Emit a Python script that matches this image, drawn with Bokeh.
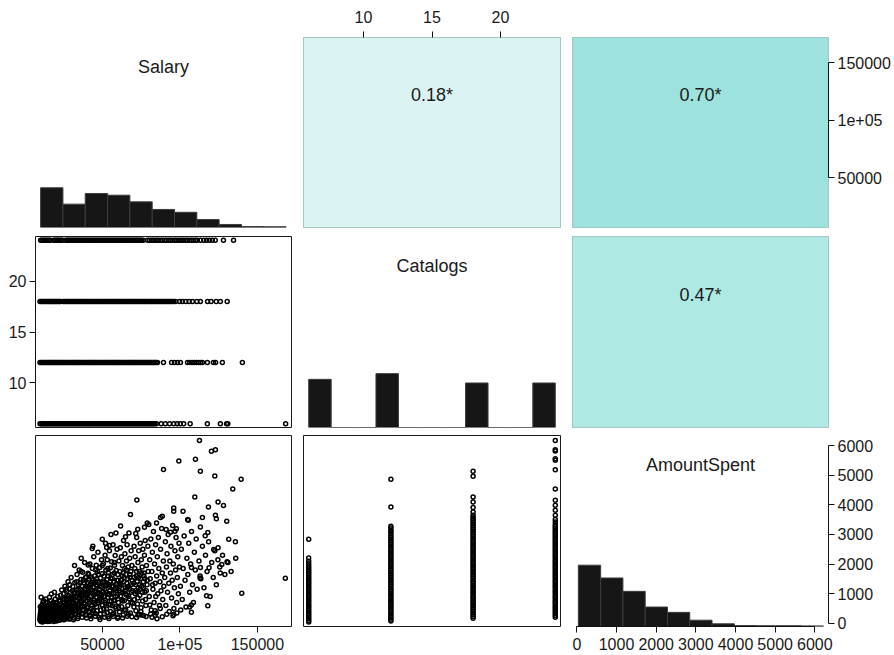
from bokeh.plotting import figure
from bokeh.layouts import gridplot
from bokeh.models import Range1d, LinearAxis, FixedTicker
from bokeh.core.properties import value
from bokeh.embed import file_html
from bokeh.resources import INLINE

# ---------------- data ----------------
variables = ["Salary", "Catalogs", "AmountSpent"]
# correlations: (Salary,Catalogs), (Salary,AmountSpent), (Catalogs,AmountSpent)
correlations = [0.18, 0.70, 0.47]
corr_colors = ["#dbf4f3", "#9de2dc", "#aee9e4"]

salary_limits = (6800, 172000)
catalogs_limits = (5.62, 24.38)
amount_limits = (-110, 6345)

salary_ticks = [50000, 100000, 150000]
salary_tick_labels = ["50000", "1e+05", "150000"]
catalogs_ticks = [10, 15, 20]
amount_ticks = [0, 1000, 2000, 3000, 4000, 5000, 6000]

# histograms (bin edges and counts)
salary_breaks = [10100, 24500, 38900, 53300, 67700, 82100, 96500, 110900, 125300, 139700, 154100, 168500]
salary_counts = [209, 123, 179, 170, 135, 95, 80, 42, 16, 5, 4]
catalogs_breaks = [6, 7.64, 9.27, 10.91, 12.55, 14.18, 15.82, 17.45, 19.09, 20.73, 22.36, 24]
catalogs_counts = [252, 0, 0, 282, 0, 0, 0, 233, 0, 0, 233]
amount_breaks = [38, 600, 1161, 1723, 2285, 2846, 3408, 3970, 4532, 5093, 5655, 6217]
amount_counts = [321, 254, 184, 102, 74, 33, 14, 5, 4, 4, 3]
hist_scale_max = 1000

# Salary (thousands) by catalogs level
sal_cat24 = [10.1, 10.9, 11.6, 12.5, 13.3, 14.0, 14.9, 15.7, 16.5,
             18.6, 19.3, 20.2, 20.9, 21.8, 22.5, 23.4, 24.2,
             26.2, 27.0, 27.9, 28.6, 29.5, 30.3, 31.1, 32.0, 32.8, 33.6, 34.5, 35.2, 36.1, 37.0,
             37.7, 38.6, 39.5, 40.2, 41.1, 42.0, 42.7, 43.6, 44.5, 45.2, 46.1, 47.0, 47.7, 48.6,
             49.5, 50.2, 51.1, 52.0, 52.7, 53.6, 54.5, 55.2, 56.1, 57.0, 57.7, 58.6, 59.5, 60.2,
             61.1, 62.0, 62.7, 63.6, 64.5, 65.2, 66.1, 67.0, 67.7, 68.6, 69.5, 70.2, 71.1, 72.0,
             72.7, 73.6, 74.5, 75.2, 76.3,
             79.1, 80.2, 81.6, 82.7, 83.9, 85.2, 86.3, 87.7, 88.8, 90.1, 91.2, 92.6, 93.7, 95.0,
             96.4, 97.5, 98.8, 100.1, 101.4, 102.5, 103.9, 105.0, 106.4, 107.6, 108.9, 110.2, 111.2,
             113.3, 115.4, 117.2, 119.0, 120.9, 122.8, 128.1, 134.6]
sal_cat18 = [9.7, 10.5, 11.1, 11.9, 12.6, 13.2, 14.0, 14.7, 15.3, 16.1, 16.8, 17.4, 18.2, 18.9,
             19.5, 20.3, 21.0, 21.6, 22.4, 23.0,
             24.7, 25.5, 26.2, 27.1, 27.8, 28.7, 29.4, 30.3, 31.0, 31.9, 32.6, 33.5, 34.2, 35.1,
             35.8, 36.7, 37.4, 38.3, 39.0, 39.9, 40.6, 41.5, 42.2, 43.1, 43.8, 44.7, 45.4, 46.3,
             47.0, 47.9, 48.6, 49.5, 50.2, 51.1, 51.8, 52.7, 53.4, 54.3, 55.0, 55.9, 56.6, 57.5,
             58.2, 59.1, 59.8, 60.7, 61.4, 62.3, 63.0, 63.9, 64.6, 65.5, 66.2, 67.1, 67.8, 68.7,
             69.4, 70.3, 71.0, 71.9, 72.6, 73.5, 74.2, 75.1, 75.8, 76.7, 77.4, 78.3, 79.0, 79.9,
             80.6, 81.5, 82.2, 83.1, 83.8, 84.7, 85.4, 86.3, 87.0, 87.9, 88.6, 89.5, 90.2, 91.1,
             91.8, 92.7, 93.4, 94.3, 95.1, 96.0,
             97.2, 99.8, 101.6, 103.8, 105.9, 108.1, 110.9, 113.2, 117.8, 120.1, 123.4, 126.1, 130.5]
sal_cat12 = [9.7, 10.4, 11.2, 11.9, 12.5, 13.3, 14.0, 14.6, 15.4, 16.1, 16.7, 17.5, 18.2, 18.8,
             19.6, 20.3, 20.9, 21.7, 22.4, 23.0, 23.8, 24.5, 25.1, 25.9, 26.6, 27.2, 28.0, 28.7,
             29.3, 30.1, 30.8, 31.4, 32.2, 32.9, 33.5, 34.3, 35.0, 35.6, 36.4, 37.1, 37.7, 38.5,
             39.2, 39.8, 40.6, 41.3, 41.9, 42.7, 43.4, 44.0, 44.8, 45.5, 46.1, 46.9, 47.6, 48.2,
             49.0, 49.7, 50.3, 51.1, 51.8, 52.4, 53.2, 53.9, 54.5, 55.3, 56.0, 56.6, 57.4, 58.1,
             58.7, 59.5, 60.2, 60.8, 61.6, 62.3, 62.9, 63.7, 64.4, 65.0, 65.8, 66.5, 67.1, 67.9,
             68.6, 69.2, 70.0, 70.7, 71.3, 72.1, 72.8, 73.4, 74.2, 74.9, 75.5, 76.3, 77.0, 77.6,
             78.4, 79.1, 79.7, 80.5, 81.2, 81.8, 82.6, 83.3, 83.9, 84.7, 85.5,
             89.4, 94.6, 96.5, 98.4, 100.3, 104.9, 106.3, 107.8, 109.1, 110.6, 112.0, 113.3, 114.5,
             117.7, 121.6, 123.0, 127.4, 140.3]
sal_cat6 = [9.7, 10.3, 11.0, 11.8, 12.4, 13.1, 13.9, 14.6, 15.2, 16.0, 16.7, 17.3, 18.1, 18.9,
            19.5, 20.2, 21.0, 21.7, 22.3, 23.1, 23.8, 24.4, 25.2, 26.0, 26.6, 27.3, 28.1, 28.8,
            29.4, 30.2, 31.0, 31.6, 32.3, 33.1, 33.8, 34.4, 35.2, 36.0, 36.6, 37.3, 38.1, 38.8,
            39.4, 40.2, 41.0, 41.6, 42.3, 43.1, 43.8, 44.4, 45.2, 46.0, 46.6, 47.3, 48.1, 48.8,
            49.4, 50.2, 51.0, 51.6, 52.3, 53.1, 53.8, 54.4, 55.2, 56.0, 56.6, 57.3, 58.1, 58.8,
            59.4, 60.2, 61.0, 61.6, 62.3, 63.1, 63.8, 64.4, 65.2, 66.0, 66.6, 67.3, 68.1, 68.8,
            69.4, 70.2, 71.0, 71.6, 72.3, 73.1, 73.8, 74.4, 75.2, 76.0, 76.6, 77.3, 78.1, 78.8,
            79.4, 80.2, 81.0, 81.6, 82.3, 83.1, 83.8, 84.8,
            87.9, 90.6, 93.3, 96.0, 98.2, 100.2, 102.4, 106.6, 117.7, 126.1, 130.1, 130.9, 168.2]

# AmountSpent by catalogs level
amt_cat6 = [38, 92, 151, 206, 268, 322, 379, 441, 497, 556, 612, 668, 731, 787, 846, 904, 962,
            1018, 1079, 1137, 1196, 1258, 1317, 1376, 1438, 1497, 1556, 1618, 1677, 1738, 1796,
            1868, 1931, 2012, 2098, 2207, 2841]
amt_cat12 = [77, 135, 196, 252, 311, 372, 428, 487, 549, 606, 664, 725, 781, 840, 902, 958, 1017,
             1079, 1135, 1194, 1256, 1312, 1371, 1433, 1489, 1548, 1610, 1666, 1725, 1787, 1843,
             1902, 1964, 2020, 2079, 2141, 2197, 2256, 2318, 2374, 2433, 2495, 2551, 2610, 2672,
             2728, 2787, 2849, 2905, 2964, 3030, 3088, 3145, 3222, 3280, 3930, 4864]
amt_cat18 = [168, 226, 287, 343, 402, 464, 520, 579, 641, 697, 756, 818, 874, 933, 995, 1051,
             1110, 1172, 1228, 1287, 1349, 1405, 1464, 1526, 1582, 1641, 1703, 1759, 1818, 1880,
             1936, 1995, 2057, 2113, 2172, 2234, 2290, 2349, 2411, 2467, 2526, 2588, 2644, 2703,
             2765, 2821, 2880, 2942, 2998, 3057, 3119, 3175, 3234, 3296, 3352, 3411, 3473, 3529,
             3588, 3650, 3762, 3910, 4099, 4268, 4965, 5134]
amt_cat24 = [201, 259, 320, 376, 435, 497, 553, 612, 674, 730, 789, 851, 907, 966, 1028, 1084,
             1143, 1205, 1261, 1320, 1382, 1438, 1497, 1559, 1615, 1674, 1736, 1792, 1851, 1913,
             1969, 2028, 2090, 2146, 2205, 2267, 2323, 2382, 2444, 2500, 2559, 2621, 2677, 2736,
             2798, 2854, 2913, 2975, 3031, 3090, 3152, 3208, 3267, 3329, 3425, 3506, 3650, 3819,
             3988, 4156, 4537, 5191, 5505, 5562, 5818, 5866, 6179]

# (Salary in thousands, AmountSpent)
salary_amount = [
    (9.6,120),(9.8,260),(10.0,75),(10.1,410),(10.3,190),(10.5,330),(10.6,55),(10.8,520),(11.0,150),
    (11.1,280),(11.3,640),(11.4,95),(11.6,380),(11.8,210),(11.9,470),(12.1,60),(12.2,300),(12.4,170),
    (12.6,560),(12.7,240),(12.9,420),(13.0,110),(13.2,350),(13.4,680),(13.5,200),(13.7,480),(13.8,80),
    (14.0,290),(14.2,600),(14.3,150),(14.5,390),(14.6,250),(14.8,530),(14.9,120),(10.4,880),(12.0,760),
    (13.3,820),(11.7,720),(10.9,600),(12.8,90),(14.4,700),(9.9,560),(11.2,40),(13.9,440),(12.5,350),
    (15.1,310),(15.2,90),(15.4,470),(15.6,180),(15.7,620),(15.9,260),(16.1,70),(16.2,400),(16.4,540),
    (16.6,130),(16.7,330),(16.9,760),(17.1,210),(17.2,450),(17.4,95),(17.6,590),(17.7,280),(17.9,380),
    (18.1,150),(18.2,700),(18.4,480),(18.6,230),(18.7,60),(18.9,350),(19.1,620),(19.2,170),(19.4,440),
    (19.6,820),(19.7,290),(19.9,110),(20.1,530),(20.3,380),(20.4,210),(20.6,680),(20.8,140),(20.9,460),
    (21.1,900),(21.3,320),(21.4,580),(21.6,100),(21.8,410),(21.9,750),(15.8,880),(17.0,990),(19.0,1050),
    (22.1,260),(22.3,520),(22.5,130),(22.6,740),(22.8,390),(23.0,950),(23.2,200),(23.4,610),(23.5,330),
    (23.7,1120),(23.9,470),(24.1,160),(24.3,800),(24.5,560),(24.6,290),(24.8,1000),(25.0,420),(25.2,120),
    (25.4,690),(25.6,360),(25.8,1250),(26.0,540),(26.2,230),(26.4,870),(26.6,450),(26.8,150),(27.0,1080),
    (27.2,640),(27.4,310),(27.6,780),(27.8,1400),(28.0,480),(28.2,210),(28.4,930),(28.6,600),(28.8,350),
    (29.0,1160),(29.2,720),(29.5,420),(29.8,1550),
    (10.2,220),(10.7,140),(11.5,330),(12.3,90),(12.9,260),(13.6,150),(14.1,380),(14.7,60),(15.3,220),
    (15.9,420),(16.5,90),(17.3,300),(17.8,520),(18.5,140),(19.3,260),(19.8,480),(20.5,80),(21.2,230),
    (22.0,390),(22.7,110),(23.3,450),(24.0,260),(24.7,130),(25.5,520),(26.1,330),(26.9,180),(27.5,560),
    (28.3,280),(29.1,150),(29.7,460),(10.5,470),(11.9,560),(13.1,520),(14.8,300),(16.3,660),(18.0,600),
    (20.0,700),(22.2,650),(24.2,720),(26.7,780),
    (9.7,180),(10.0,340),(10.4,100),(11.0,450),(11.4,210),(11.9,130),(12.3,400),(12.8,320),(13.3,230),
    (13.8,360),(14.3,480),(14.9,210),(15.5,350),(16.0,160),(16.6,250),(17.1,530),(17.6,140),(18.3,380),
    (18.8,250),(19.5,540),(20.2,300),(20.9,170),(21.5,420),
    (30.1,260),(30.3,860),(30.5,540),(30.8,1240),(31.0,390),(31.2,700),(31.5,1020),(31.7,180),(31.9,600),
    (32.2,1380),(32.4,470),(32.6,880),(32.9,300),(33.1,1120),(33.3,760),(33.6,1650),(33.8,520),(34.0,990),
    (34.3,230),(34.5,1300),(34.7,640),(35.0,1800),(35.2,850),(35.4,410),(35.7,1150),(35.9,700),(36.1,1480),
    (36.4,330),(36.6,940),(36.8,1250),(37.1,580),(37.3,1720),(37.5,1060),(37.8,450),(38.0,820),(38.2,1370),
    (38.5,2050),(38.7,640),(38.9,1180),(39.2,270),(39.4,960),(39.6,1560),(39.8,740),(32.0,1950),(36.3,2200),
    (30.4,420),(31.1,580),(31.8,300),(32.5,760),(33.2,430),(33.9,620),(34.6,370),(35.3,950),(36.0,540),
    (36.7,1100),(37.4,310),(38.1,680),(38.8,880),(39.5,430),(33.4,1400),(39.0,1550),(36.2,1750),
    (25.3,820),(26.5,1150),(27.3,950),(28.1,720),(28.9,1300),(29.6,880),(30.6,1100),(31.4,840),(32.1,1050),
    (32.8,640),(33.5,920),(34.2,1150),(34.9,500),(35.6,1350),(36.3,780),(37.0,1000),(37.7,1450),(38.4,560),
    (39.1,1250),(39.9,1000),
    (40.1,520),(40.3,1230),(40.5,860),(40.8,1690),(41.0,380),(41.2,1040),(41.4,1450),(41.7,700),(41.9,2000),
    (42.1,1180),(42.3,240),(42.6,900),(42.8,1560),(43.0,620),(43.3,1330),(43.5,1850),(43.7,1010),(43.9,430),
    (44.2,1220),(44.4,2250),(44.6,780),(44.9,1600),(45.1,1100),(45.3,330),(45.5,1420),(45.8,880),(46.0,1960),
    (46.2,560),(46.4,1260),(46.7,1740),(46.9,1000),(47.1,2400),(47.3,690),(47.6,1380),(47.8,190),(48.0,1120),
    (48.2,1880),(48.5,820),(48.7,1530),(48.9,450),(49.2,1240),(49.4,2150),(49.6,960),(49.8,1670),(43.8,2600),
    (40.2,1050),(40.9,560),(41.6,280),(42.4,780),(43.1,1120),(43.8,350),(44.5,950),(45.2,640),(45.9,1300),
    (46.6,420),(47.3,1050),(48.0,760),(48.7,300),(49.4,880),(41.1,1650),(45.6,1800),(49.9,1950),
    (40.6,1380),(41.3,820),(42.0,1280),(42.7,500),(43.4,1500),(44.1,700),(44.8,1350),(45.5,1050),(46.2,1500),
    (46.9,760),(47.6,1650),(48.3,1000),(49.0,1350),(49.7,620),
    (50.1,610),(50.3,1380),(50.6,2010),(50.8,900),(51.0,1600),(51.2,310),(51.5,1150),(51.7,2300),(51.9,760),
    (52.2,1790),(52.4,1270),(52.6,480),(52.9,1480),(53.1,2150),(53.3,980),(53.6,220),(53.8,1700),(54.0,1320),
    (54.3,640),(54.5,2450),(54.7,1090),(55.0,1870),(55.2,400),(55.4,1530),(55.7,860),(55.9,2080),(56.1,1240),
    (56.4,590),(56.6,1650),(56.8,2650),(57.1,1020),(57.3,340),(57.5,1410),(57.8,1960),(58.0,760),(58.2,2290),
    (58.5,1180),(58.7,500),(58.9,1780),(59.2,1330),(59.4,2500),(59.6,920),(59.8,170),(52.0,2700),(55.5,3000),
    (50.2,1200),(50.9,480),(51.6,700),(52.3,1050),(53.0,360),(53.7,870),(54.4,1250),(55.1,620),(55.8,1000),
    (56.5,300),(57.2,780),(57.9,1150),(58.6,560),(59.3,1450),(53.4,1850),(57.6,2050),
    (50.5,1050),(51.3,1400),(52.1,650),(52.8,1300),(53.5,1600),(54.2,1000),(54.9,1400),(55.6,750),(56.3,1500),
    (57.0,1250),(57.7,1700),(58.4,900),(59.1,1100),(59.9,1650),
    (60.1,1450),(60.3,700),(60.6,2100),(60.8,1100),(61.0,380),(61.3,1750),(61.5,2550),(61.7,900),(62.0,1300),
    (62.2,2250),(62.4,560),(62.7,1600),(62.9,1950),(63.1,1050),(63.4,280),(63.6,2800),(63.8,1400),(64.1,760),
    (64.3,1850),(64.5,2350),(64.8,1200),(65.0,450),(65.2,1650),(65.5,2100),(65.7,950),(65.9,2650),(66.2,1500),
    (66.4,600),(66.6,1900),(66.9,1250),(67.1,3050),(67.3,830),(67.6,2200),(67.8,1550),(68.0,350),(68.3,1750),
    (68.5,2450),(68.7,1050),(69.0,1950),(69.4,680),
    (60.5,520),(61.4,1250),(62.5,800),(63.3,1700),(64.0,450),(64.9,1000),(65.8,1350),(66.7,300),(67.5,1150),
    (68.4,700),(69.2,1450),
    (60.7,1300),(61.6,1050),(62.3,1450),(63.0,750),(63.9,1550),(64.6,1100),(65.4,1800),(66.1,1200),(66.9,900),
    (67.7,1650),(68.6,1300),(69.5,1100),
    (70.1,1350),(70.4,2600),(70.6,800),(70.9,1850),(71.1,2250),(71.4,1100),(71.6,420),(71.9,1600),(72.1,2900),
    (72.4,1400),(72.6,650),(72.9,2050),(73.1,1200),(73.4,2450),(73.6,300),(73.9,1750),(74.1,950),(74.4,2700),
    (74.6,1500),(74.9,520),(75.1,2150),(75.4,1250),(75.6,1900),(75.9,750),(76.1,2500),(76.4,1400),(76.6,260),
    (76.9,1700),(77.1,2300),(77.4,1050),(77.6,2800),(78.0,600),(78.4,1950),(78.8,1300),(79.3,2600),
    (70.3,550),(71.2,1000),(72.0,1750),(72.8,850),(73.8,1300),(74.8,400),(75.7,1050),(76.7,1600),(77.8,800),
    (79.0,1450),
    (70.5,1550),(71.5,1300),(72.3,1050),(73.3,1550),(74.3,1150),(75.3,1700),(76.3,1200),(77.3,1500),(78.3,1100),
    (79.5,1750),
    (25.9,200),(28.5,140),(31.3,120),(34.1,160),(36.9,200),(39.7,180),(42.5,150),(45.4,240),(48.4,130),
    (51.4,200),(54.2,160),(57.0,230),(60.0,210),(63.0,180),(66.0,240),(69.0,220),(72.0,190),(75.0,280),
    (78.2,230),(81.1,310),(84.0,260),(91.5,300),(98.0,350),
    (80.2,900),(80.5,2150),(80.8,1500),(81.2,2850),(81.5,450),(81.9,1750),(82.2,2400),(82.6,1150),(82.9,3100),
    (83.3,700),(83.6,2000),(84.0,1350),(84.3,2650),(84.7,350),(85.0,1600),(85.4,2250),(85.7,1000),(86.1,2900),
    (86.4,1850),(86.8,600),(87.1,1400),(87.5,2500),(87.8,1100),(88.2,3200),(88.6,1700),(88.9,800),(89.3,2100),
    (89.6,1250),(85.2,150),(82.0,200),(80.5,620),(82.4,1300),(84.4,900),(87.3,500),
    (90.2,1550),(90.6,2750),(90.9,600),(91.3,1900),(91.7,2350),(92.0,1050),(92.4,3000),(92.8,1350),(93.1,400),
    (93.5,2100),(93.9,1700),(94.2,2600),(94.6,850),(95.0,1450),(95.3,3300),(95.7,2000),(96.1,500),(96.4,1200),
    (96.8,2450),(97.2,1800),(97.5,2900),(97.9,700),(98.3,1550),(98.6,2250),(99.0,1000),(99.4,2700),(99.7,1900),
    (95.5,250),
    (100.3,1250),(100.9,2500),(101.5,800),(102.1,1850),(102.7,2950),(103.3,1450),(103.9,550),(104.5,2200),
    (105.1,1650),(105.7,2700),(106.3,1050),(106.9,2000),(107.5,3100),(108.1,1300),(108.7,700),(109.3,2400),
    (109.9,1800),(110.5,2850),(111.1,1150),(112.3,2100),(113.5,1500),(114.5,2600),
    (115.5,1200),(116.5,2300),(117.5,1750),(118.5,2750),(119.5,900),(120.5,2050),(121.5,1550),(122.5,2450),
    (123.5,1300),(124.5,2150),(126.0,1700),(127.5,2300),(129.0,1650),(131.0,2050),(133.0,1750),(136.0,2200),
    (112.6,6180),(120.3,5810),(122.9,5867),(99.3,5482),(110.0,5539),(89.4,5192),(113.2,5135),(122.5,4977),
    (139.5,4865),(134.1,4538),(109.6,4268),(72.2,4167),(118.4,3931),(124.6,4100),(128.1,3978),(96.0,3898),
    (96.0,3786),(102.0,3786),(68.1,3674),(88.6,3617),(87.5,3573),(105.0,3506),(105.4,3482),(114.5,3573),
    (122.9,3652),(123.5,3528),(130.2,3449),(84.9,3392),(78.9,3392),(79.9,3337),(61.7,3290),(113.2,3256),
    (97.7,3190),(96.8,3111),(91.1,3168),(93.9,3077),(49.9,2842),(58.7,3054),(71.5,3032),(72.8,3179),
    (77.1,3246),(64.9,2920),(118.0,3067),(116.3,2953),(131.5,2842),(135.8,2751),(124.6,2548),(121.8,2494),
    (130.4,2077),(127.0,1988),(125.7,1897),(118.8,1874),(113.2,1888),(107.4,1888),(139.9,1010),(168.0,1517),
    (117.2,930),(118.0,593),(107.4,616),(106.2,549),(113.0,1594),(113.0,1527),(43.4,2528),(52.7,2562),
    (54.6,2630),(40.8,1970),(96.0,300),(88.6,220),(72.9,280),(107.4,370),(100.5,450),(84.0,420),
]

# ---------------- styling / layout ----------------
FONT = "Liberation Sans"
frame_w = [256, 257, 256]
frame_h = [190, 191, 191]
border_l = [35, 6, 6]
border_r = [6, 6, 66]
border_t = [37, 5, 4]
border_b = [4, 4, 29]


def make_fig(r, c, xr, yr):
    p = figure(width=border_l[c] + frame_w[c] + border_r[c],
               height=border_t[r] + frame_h[r] + border_b[r],
               x_range=Range1d(*xr), y_range=Range1d(*yr),
               x_axis_location=None, y_axis_location=None,
               toolbar_location=None, output_backend="svg",
               min_border_left=border_l[c], min_border_right=border_r[c],
               min_border_top=border_t[r], min_border_bottom=border_b[r])
    p.grid.visible = False
    p.outline_line_color = None
    p.background_fill_color = "white"
    p.border_fill_color = "white"
    return p


def add_axis(p, side, ticks, labels=None, range_name="default", standoff=3, line=True):
    kw = {}
    if side in ("above", "below"):
        kw["x_range_name"] = range_name
    else:
        kw["y_range_name"] = range_name
    ax = LinearAxis(ticker=FixedTicker(ticks=ticks, minor_ticks=[]), **kw)
    ax.major_tick_out = 6
    ax.major_tick_in = 0
    ax.minor_tick_out = 0
    ax.minor_tick_in = 0
    ax.major_tick_line_color = "#111111"
    ax.axis_line_color = "#111111" if line else None
    ax.bounds = (ticks[0], ticks[-1])
    ax.major_label_text_font = FONT
    ax.major_label_text_font_size = "16px"
    ax.major_label_text_color = "#1a1a1a"
    ax.major_label_standoff = standoff
    if labels is not None:
        ax.major_label_overrides = {t: l for t, l in zip(ticks, labels)}
    p.add_layout(ax, side)
    return ax


def scatter_panel(p, xs, ys):
    p.scatter(xs, ys, marker="circle", size=4.0, fill_color=None,
              line_color="#000000", line_width=1.5)
    p.outline_line_color = "#1a1a1a"
    p.outline_line_width = 1


def hist_panel(p, breaks, counts, name, **kw):
    p.quad(left=breaks[:-1], right=breaks[1:], bottom=[0] * len(counts), top=counts,
           fill_color="#161616", line_color="#3c3c3c", line_width=1, **kw)


def label_text(p, x, y, txt, **kw):
    p.text(x=[x], y=[y], text=[txt], text_font=value(FONT), text_font_size="18px",
           text_align="center", text_baseline="middle", text_color="#1a1a1a", **kw)


def corr_panel(p, r, color):
    p.background_fill_color = color
    p.outline_line_color = "#a3c6c2"
    p.outline_line_width = 1
    label_text(p, 0.5, 0.695, f"{r:.2f}*")


sal_lim = salary_limits
cat_lim = catalogs_limits
amt_lim = amount_limits

# Row 1
f11 = make_fig(0, 0, sal_lim, (0, hist_scale_max))
hist_panel(f11, salary_breaks, salary_counts, "Salary")
label_text(f11, sum(sal_lim) / 2, 0.845 * hist_scale_max, variables[0])

f12 = make_fig(0, 1, (0, 1), (0, 1))
f12.extra_x_ranges = {"cat": Range1d(*cat_lim)}
corr_panel(f12, correlations[0], corr_colors[0])
add_axis(f12, "above", catalogs_ticks, range_name="cat", standoff=9, line=False)

f13 = make_fig(0, 2, (0, 1), (0, 1))
f13.extra_y_ranges = {"sal": Range1d(*sal_lim)}
corr_panel(f13, correlations[1], corr_colors[1])
add_axis(f13, "right", salary_ticks, salary_tick_labels, range_name="sal", standoff=3)

# Row 2
f21 = make_fig(1, 0, sal_lim, cat_lim)
xs, ys = [], []
for lvl, vals in ((24, sal_cat24), (18, sal_cat18), (12, sal_cat12), (6, sal_cat6)):
    xs += [v * 1000 for v in vals]
    ys += [lvl] * len(vals)
scatter_panel(f21, xs, ys)
add_axis(f21, "left", catalogs_ticks, standoff=3)

f22 = make_fig(1, 1, cat_lim, (0, hist_scale_max))
hist_panel(f22, catalogs_breaks, catalogs_counts, "Catalogs")
label_text(f22, sum(cat_lim) / 2, 0.845 * hist_scale_max, variables[1])

f23 = make_fig(1, 2, (0, 1), (0, 1))
corr_panel(f23, correlations[2], corr_colors[2])

# Row 3
f31 = make_fig(2, 0, sal_lim, amt_lim)
scatter_panel(f31, [s * 1000 for s, a in salary_amount], [a for s, a in salary_amount])
add_axis(f31, "below", salary_ticks, salary_tick_labels, standoff=5)

f32 = make_fig(2, 1, cat_lim, amt_lim)
xs, ys = [], []
for lvl, vals in ((6, amt_cat6), (12, amt_cat12), (18, amt_cat18), (24, amt_cat24)):
    xs += [lvl] * len(vals)
    ys += vals
scatter_panel(f32, xs, ys)

f33 = make_fig(2, 2, amt_lim, amt_lim)
f33.extra_y_ranges = {"cnt": Range1d(0, hist_scale_max)}
hist_panel(f33, amount_breaks, amount_counts, "AmountSpent", y_range_name="cnt")
label_text(f33, sum(amt_lim) / 2, 0.845 * hist_scale_max, variables[2], y_range_name="cnt")
add_axis(f33, "below", amount_ticks, standoff=5)
add_axis(f33, "right", amount_ticks, standoff=3)

grid = gridplot([[f11, f12, f13], [f21, f22, f23], [f31, f32, f33]], toolbar_location=None)

with open("out.html", "w") as fh:
    fh.write(file_html(grid, INLINE))
